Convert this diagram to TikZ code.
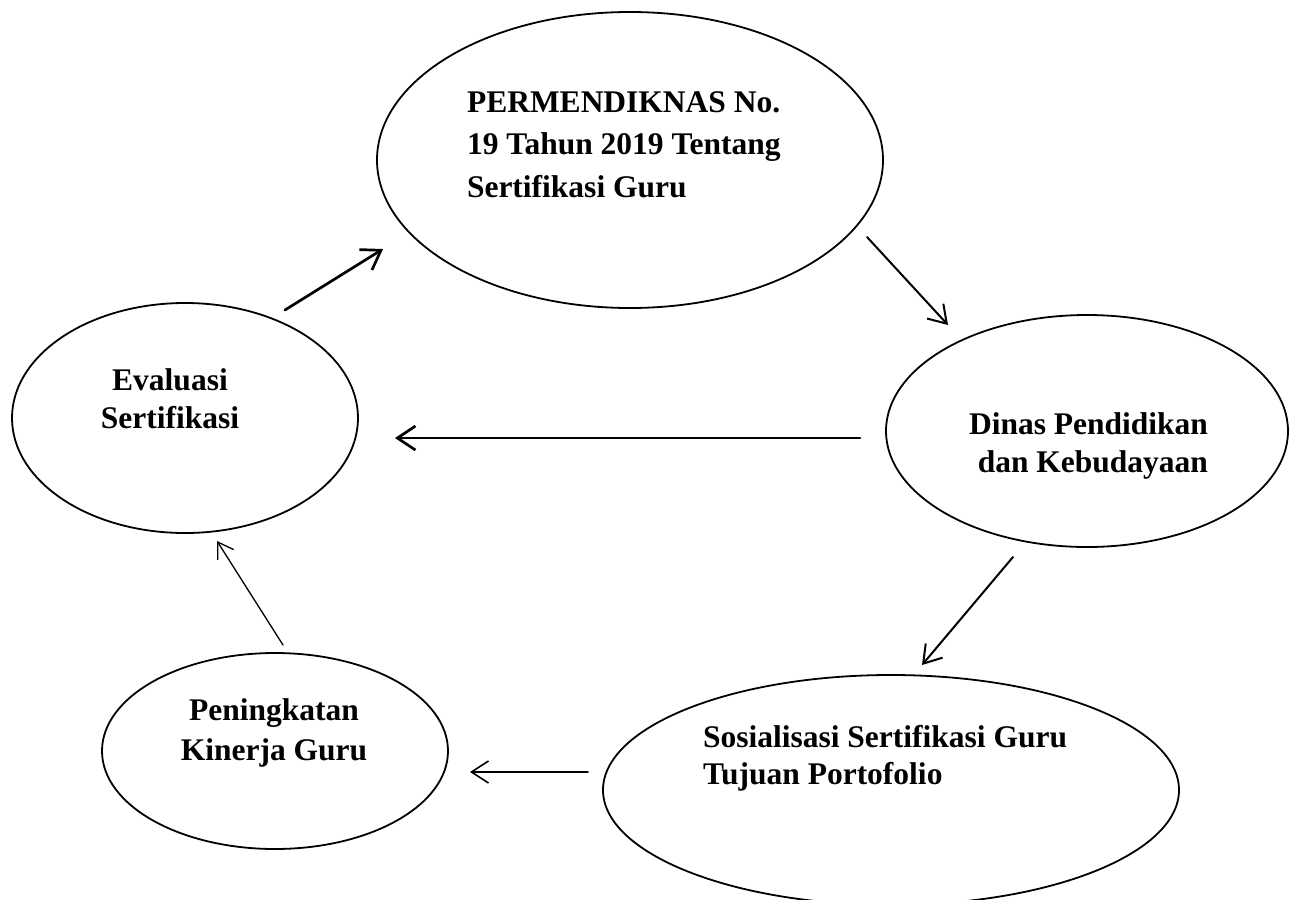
\documentclass[tikz,border=0pt]{standalone}
\usepackage{fontspec}
\setmainfont{Liberation Serif}
\usetikzlibrary{shapes.geometric,arrows.meta}
\begin{document}
\begin{tikzpicture}[x=1pt,y=-1pt,
  ell/.style={draw, ellipse, line width=1.8pt, inner sep=0pt, outer sep=0pt},
  lbl/.style={inner sep=0pt, outer sep=0pt, font=\fontsize{31.5}{#1}\selectfont\bfseries},
  arr/.style={line cap=round, line join=round}]
\useasboundingbox (0,0) rectangle (1294,900);
\fill[white] (0,0) rectangle (1294,900);

% ellipses
\node[ell, minimum width=506pt, minimum height=296pt] (top) at (630,160) {};
\node[ell, minimum width=346pt, minimum height=230pt] (eval) at (185,418) {};
\node[ell, minimum width=402pt, minimum height=232pt] (dinas) at (1087,431) {};
\node[ell, minimum width=346pt, minimum height=196pt] (pen) at (275,751) {};
\node[ell, minimum width=576pt, minimum height=230pt] (sos) at (891,790) {};

% labels (anchor = baseline of the last line)
\node[lbl=42.5, align=left, anchor=base west] (toptext) at (467,197)
  {PERMENDIKNAS No.\\19 Tahun 2019 Tentang\\Sertifikasi Guru};
\node[lbl=38, align=center, anchor=base] (evaltext) at (170,428)
  {Evaluasi\\Sertifikasi};
\node[lbl=38, align=right, anchor=base east] (dinastext) at (1208,472)
  {Dinas Pendidikan\\dan Kebudayaan};
\node[lbl=40, align=center, anchor=base] (pentext) at (274,760)
  {Peningkatan\\Kinerja Guru};
\node[lbl=37, align=left, anchor=base west] (sostext) at (703,784)
  {Sosialisasi Sertifikasi Guru\\Tujuan Portofolio};

% connector end points
\coordinate (a1s) at (285,310); \coordinate (a1e) at (383,249);
\coordinate (a2s) at (867,237); \coordinate (a2e) at (948,325);
\coordinate (a3s) at (860,438); \coordinate (a3e) at (395,438);
\coordinate (a4s) at (1013,557); \coordinate (a4e) at (922,665);
\coordinate (a5s) at (588,772); \coordinate (a5e) at (470,772);
\coordinate (a6s) at (283,645); \coordinate (a6e) at (217,541);

\draw[arr, line width=2.7pt, -{Straight Barb[length=18pt,width=24pt]}] (a1s) -- (a1e);
\draw[arr, line width=2pt, -{Straight Barb[length=17pt,width=22pt]}] (a2s) -- (a2e);
\draw[arr, line width=2.7pt, -{Straight Barb[length=18pt,width=24pt]}] (a3s) -- (a3e);
\draw[arr, line width=2pt, -{Straight Barb[length=17pt,width=22pt]}] (a4s) -- (a4e);
\draw[arr, line width=1.6pt, -{Straight Barb[length=17pt,width=22pt]}] (a5s) -- (a5e);
\draw[arr, line width=1.3pt, -{Straight Barb[length=15pt,width=19pt]}] (a6s) -- (a6e);
\end{tikzpicture}
\end{document}
